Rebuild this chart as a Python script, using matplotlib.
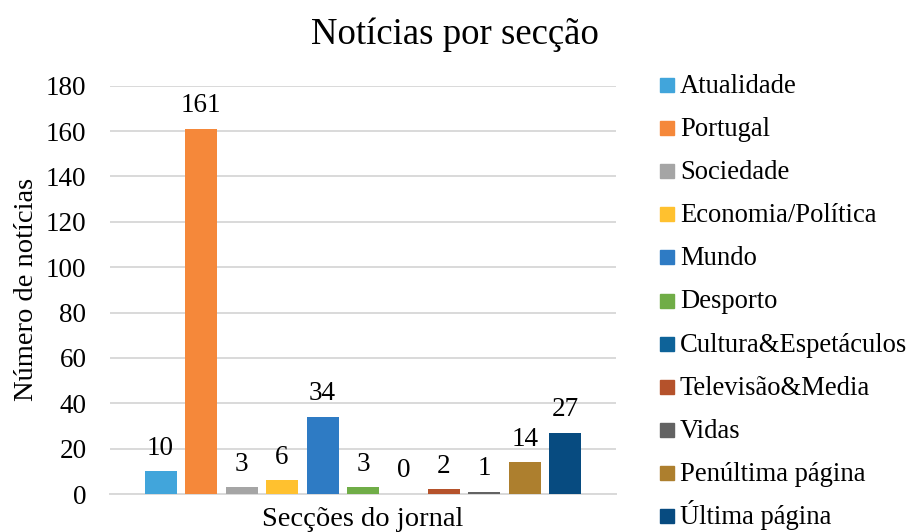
import matplotlib.pyplot as plt
from matplotlib.patches import Rectangle

# --- Daten ---
seccoes = ["Atualidade", "Portugal", "Sociedade", "Economia/Política", "Mundo",
           "Desporto", "Cultura&Espetáculos", "Televisão&Media", "Vidas",
           "Penúltima página", "Última página"]
noticias = [10, 161, 3, 6, 34, 3, 0, 2, 1, 14, 27]
cores = ["#41A5DB", "#F5883A", "#A5A5A5", "#FFC12F", "#2E7BC4", "#70AD47",
         "#0E6399", "#B5522B", "#636363", "#AD7F2E", "#074B80"]
y_ticks = [0, 20, 40, 60, 80, 100, 120, 140, 160, 180]

plt.rcParams['font.family'] = ['Liberation Serif', 'DejaVu Serif']
FS = 19.5

W, H = 909, 532
fig = plt.figure(figsize=(W / 100, H / 100), dpi=100)
ax = fig.add_axes([110/W, 1 - 494/H, 506/W, 408.3/H])

for i, (nome, val, cor) in enumerate(zip(seccoes, noticias, cores)):
    ax.bar(i, val, width=0.79, color=cor, label=nome, zorder=3)
    ax.annotate(str(val), (i, val), xytext=(0, 12), textcoords="offset points",
                ha="center", va="baseline", fontsize=FS)

ax.set_xlim(-1.25, 11.25)
ax.set_ylim(0, 180)
ax.set_yticks(y_ticks)
ax.set_xticks([])
ax.tick_params(axis="y", length=0, labelsize=FS, pad=17)
ax.grid(axis="y", color="#D9D9D9", linewidth=1.4, zorder=0)
for s in ["top", "right", "left"]:
    ax.spines[s].set_visible(False)
ax.spines["bottom"].set_color("#D9D9D9")
ax.spines["bottom"].set_linewidth(1.4)

ax.set_xlabel("Secções do jornal", fontsize=20.5, labelpad=9)
ax.set_ylabel("Número de notícias", fontsize=20.5, labelpad=5)
fig.text(0.5, 1 - 44/H, "Notícias por secção", fontsize=26.5,
         ha="center", va="baseline")

# legenda à direita (linhas com espaçamento fixo)
y0, passo = 85, 43.1
for k, (nome, cor) in enumerate(zip(seccoes, cores)):
    yc = y0 + k * passo
    fig.patches.append(Rectangle((660/W, 1 - (yc + 7)/H), 14/W, 14/H,
                                 transform=fig.transFigure, color=cor))
    fig.text(680/W, 1 - (yc + 8)/H, nome, fontsize=19.2, va="baseline", ha="left")

fig.savefig("out.png", dpi=100)
